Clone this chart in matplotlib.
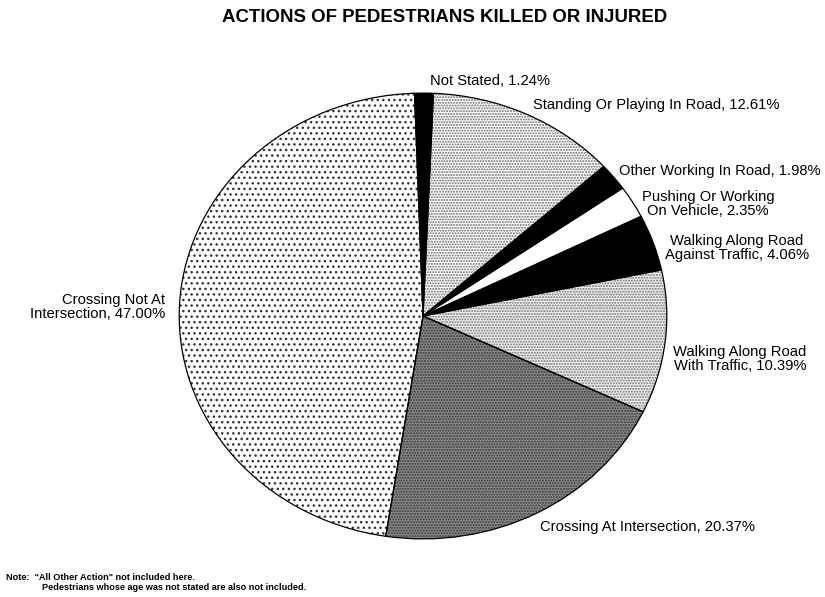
import matplotlib.pyplot as plt

plt.rcParams["font.family"] = ["Liberation Sans", "DejaVu Sans"]
plt.rcParams["hatch.linewidth"] = 1.0

# Pedestrian actions, clockwise from the top
actions = [
    "Not Stated",
    "Standing Or Playing In Road",
    "Other Working In Road",
    "Pushing Or Working\nOn Vehicle",
    "Walking Along Road\nAgainst Traffic",
    "Walking Along Road\nWith Traffic",
    "Crossing At Intersection",
    "Crossing Not At\nIntersection",
]
shares = [1.24, 12.61, 1.98, 2.35, 4.06, 10.39, 20.37, 47.00]

fills   = ["black", "white", "black", "white", "black", "#f2f2f2", "#8a8a8a", "white"]
hatches = [None, "......", None, None, None, "......", "......", "..."]
dots    = ["black", "#6a6a6a", "black", "white", "black", "#707070", "#383838", "#333333"]

# label anchor (px from left, px from top), alignment
label_pos = [
    (430, 81, "left"),
    (533, 105, "left"),
    (619, 171, "left"),
    (708, 204, "center"),
    (737, 248, "center"),
    (740, 359, "center"),
    (540, 527, "left"),
    (165, 307, "right"),
]

W, H = 825, 597
fig = plt.figure(figsize=(W / 100, H / 100), dpi=100)

# pie is slightly squashed vertically
cx, cy, rx, ry = 423, 316, 245, 224
ax = fig.add_axes([(cx - rx) / W, 1 - (cy + ry) / H, 2 * rx / W, 2 * ry / H])

wedges, _ = ax.pie(shares, startangle=92, counterclock=False, radius=1)
for w, fc, hc, h in zip(wedges, fills, dots, hatches):
    w.set_facecolor(fc)
    w.set_edgecolor(hc)
    w.set_linewidth(0)
    if h:
        w.set_hatch(h)

# outlines on top of the textured fills
ax.pie(shares, startangle=92, counterclock=False, radius=1,
       wedgeprops=dict(fill=False, edgecolor="black", linewidth=0.9))
ax.set_xlim(-1.005, 1.005)
ax.set_ylim(-1.005, 1.005)
ax.set_aspect("auto")
ax.axis("off")

for name, val, (x, y, ha) in zip(actions, shares, label_pos):
    fig.text(x / W, 1 - y / H, f"{name}, {val:.2f}%", ha=ha, va="center",
             multialignment=ha, fontsize=10.6, linespacing=1.05)

fig.text(445 / W, 1 - 17 / H, "ACTIONS OF PEDESTRIANS KILLED OR INJURED",
         ha="center", va="center", fontsize=13.4, fontweight="bold")

fig.text(6 / W, 1 - 577 / H, "Note:  \"All Other Action\" not included here.",
         ha="left", va="center", fontsize=6.6, fontweight="bold")
fig.text(42 / W, 1 - 588 / H,
         "Pedestrians whose age was not stated are also not included.",
         ha="left", va="center", fontsize=6.6, fontweight="bold")

fig.savefig("out.png", dpi=100)
